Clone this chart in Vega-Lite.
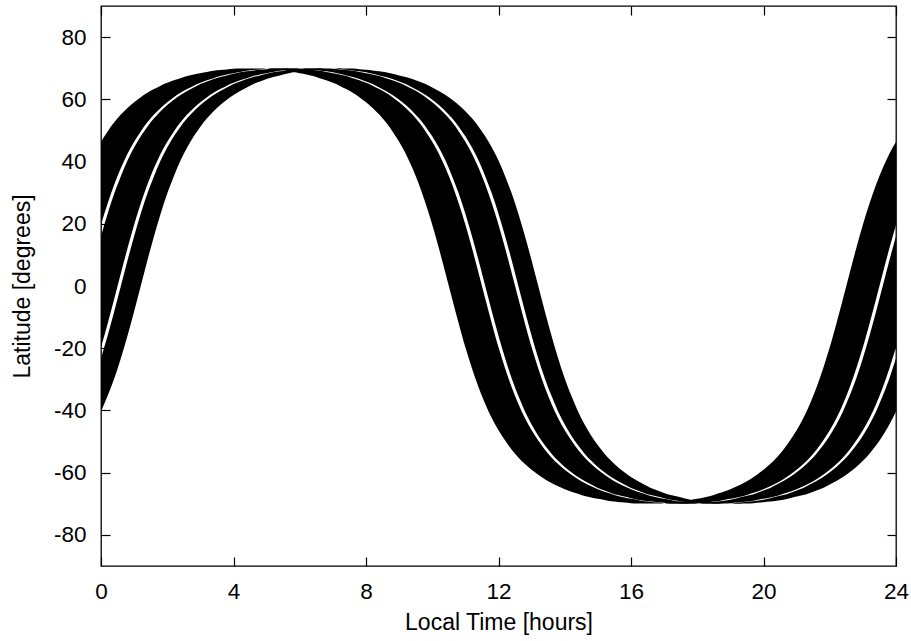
{
  "$schema": "https://vega.github.io/schema/vega-lite/v6.json",
  "width": 795,
  "height": 560,
  "autosize": {"type": "none"},
  "padding": {"left": 101, "top": 6, "right": 15, "bottom": 75},
  "background": "white",
  "config": {
    "view": {"stroke": "#000", "strokeWidth": 1.3},
    "font": "Liberation Sans",
    "axis": {
      "labelFont": "Liberation Sans",
      "titleFont": "Liberation Sans",
      "labelFontSize": 22.5,
      "titleFontSize": 23,
      "titleFontWeight": "normal",
      "labelColor": "#000",
      "titleColor": "#000",
      "tickColor": "#000",
      "tickWidth": 1.2,
      "domain": false,
      "grid": false,
      "labelFlush": false,
      "labelOverlap": false
    }
  },
  "data": {
    "values": [
      {"t": 0, "a": 46.4, "b": 19.7, "c": 16.0, "d": -19.7, "e": -23.2, "f": -40.3},
      {"t": 0.2, "a": 49.7, "b": 26.5, "c": 23.2, "d": -12.1, "e": -16.0, "f": -35.3},
      {"t": 0.4, "a": 52.6, "b": 32.6, "c": 29.7, "d": -4.1, "e": -8.2, "f": -29.7},
      {"t": 0.6, "a": 55.1, "b": 37.9, "c": 35.3, "d": 4.1, "e": 0, "f": -23.2},
      {"t": 0.8, "a": 57.2, "b": 42.5, "c": 40.3, "d": 12.1, "e": 8.2, "f": -16.0},
      {"t": 1.0, "a": 59.1, "b": 46.4, "c": 44.5, "d": 19.7, "e": 16.0, "f": -8.2},
      {"t": 1.2, "a": 60.7, "b": 49.7, "c": 48.1, "d": 26.5, "e": 23.2, "f": 0},
      {"t": 1.4, "a": 62.1, "b": 52.6, "c": 51.2, "d": 32.6, "e": 29.7, "f": 8.2},
      {"t": 1.6, "a": 63.3, "b": 55.1, "c": 53.9, "d": 37.9, "e": 35.3, "f": 16.0},
      {"t": 1.8, "a": 64.4, "b": 57.2, "c": 56.2, "d": 42.5, "e": 40.3, "f": 23.2},
      {"t": 2.0, "a": 65.3, "b": 59.1, "c": 58.2, "d": 46.4, "e": 44.5, "f": 29.7},
      {"t": 2.2, "a": 66.1, "b": 60.7, "c": 59.9, "d": 49.7, "e": 48.1, "f": 35.3},
      {"t": 2.4, "a": 66.8, "b": 62.1, "c": 61.4, "d": 52.6, "e": 51.2, "f": 40.3},
      {"t": 2.6, "a": 67.5, "b": 63.3, "c": 62.7, "d": 55.1, "e": 53.9, "f": 44.5},
      {"t": 2.8, "a": 68.0, "b": 64.4, "c": 63.8, "d": 57.2, "e": 56.2, "f": 48.1},
      {"t": 3.0, "a": 68.4, "b": 65.3, "c": 64.9, "d": 59.1, "e": 58.2, "f": 51.2},
      {"t": 3.2, "a": 68.8, "b": 66.1, "c": 65.7, "d": 60.7, "e": 59.9, "f": 53.9},
      {"t": 3.4, "a": 69.2, "b": 66.8, "c": 66.5, "d": 62.1, "e": 61.4, "f": 56.2},
      {"t": 3.6, "a": 69.4, "b": 67.5, "c": 67.2, "d": 63.3, "e": 62.7, "f": 58.2},
      {"t": 3.8, "a": 69.6, "b": 68.0, "c": 67.7, "d": 64.4, "e": 63.8, "f": 59.9},
      {"t": 4.0, "a": 69.8, "b": 68.4, "c": 68.2, "d": 65.3, "e": 64.9, "f": 61.4},
      {"t": 4.2, "a": 69.9, "b": 68.8, "c": 68.7, "d": 66.1, "e": 65.7, "f": 62.7},
      {"t": 4.4, "a": 69.9, "b": 69.2, "c": 69.0, "d": 66.8, "e": 66.5, "f": 63.8},
      {"t": 4.6, "a": 69.9, "b": 69.4, "c": 69.3, "d": 67.5, "e": 67.2, "f": 64.9},
      {"t": 4.8, "a": 69.9, "b": 69.6, "c": 69.5, "d": 68.0, "e": 67.7, "f": 65.7},
      {"t": 5.0, "a": 69.8, "b": 69.8, "c": 69.7, "d": 68.4, "e": 68.2, "f": 66.5},
      {"t": 5.2, "a": 69.6, "b": 69.9, "c": 69.9, "d": 68.8, "e": 68.7, "f": 67.2},
      {"t": 5.4, "a": 69.4, "b": 69.9, "c": 69.9, "d": 69.2, "e": 69.0, "f": 67.7},
      {"t": 5.6, "a": 69.2, "b": 69.9, "c": 70.0, "d": 69.4, "e": 69.3, "f": 68.2},
      {"t": 5.8, "a": 68.8, "b": 69.9, "c": 69.9, "d": 69.6, "e": 69.5, "f": 68.7},
      {"t": 6.0, "a": 68.4, "b": 69.8, "c": 69.9, "d": 69.8, "e": 69.7, "f": 69.0},
      {"t": 6.2, "a": 68.0, "b": 69.6, "c": 69.7, "d": 69.9, "e": 69.9, "f": 69.3},
      {"t": 6.4, "a": 67.5, "b": 69.4, "c": 69.5, "d": 69.9, "e": 69.9, "f": 69.5},
      {"t": 6.6, "a": 66.8, "b": 69.2, "c": 69.3, "d": 69.9, "e": 70.0, "f": 69.7},
      {"t": 6.8, "a": 66.1, "b": 68.8, "c": 69.0, "d": 69.9, "e": 69.9, "f": 69.9},
      {"t": 7.0, "a": 65.3, "b": 68.4, "c": 68.7, "d": 69.8, "e": 69.9, "f": 69.9},
      {"t": 7.2, "a": 64.4, "b": 68.0, "c": 68.2, "d": 69.6, "e": 69.7, "f": 70.0},
      {"t": 7.4, "a": 63.3, "b": 67.5, "c": 67.7, "d": 69.4, "e": 69.5, "f": 69.9},
      {"t": 7.6, "a": 62.1, "b": 66.8, "c": 67.2, "d": 69.2, "e": 69.3, "f": 69.9},
      {"t": 7.8, "a": 60.7, "b": 66.1, "c": 66.5, "d": 68.8, "e": 69.0, "f": 69.7},
      {"t": 8.0, "a": 59.1, "b": 65.3, "c": 65.7, "d": 68.4, "e": 68.7, "f": 69.5},
      {"t": 8.2, "a": 57.2, "b": 64.4, "c": 64.9, "d": 68.0, "e": 68.2, "f": 69.3},
      {"t": 8.4, "a": 55.1, "b": 63.3, "c": 63.8, "d": 67.5, "e": 67.7, "f": 69.0},
      {"t": 8.6, "a": 52.6, "b": 62.1, "c": 62.7, "d": 66.8, "e": 67.2, "f": 68.7},
      {"t": 8.8, "a": 49.7, "b": 60.7, "c": 61.4, "d": 66.1, "e": 66.5, "f": 68.2},
      {"t": 9.0, "a": 46.4, "b": 59.1, "c": 59.9, "d": 65.3, "e": 65.7, "f": 67.7},
      {"t": 9.2, "a": 42.5, "b": 57.2, "c": 58.2, "d": 64.4, "e": 64.9, "f": 67.2},
      {"t": 9.4, "a": 37.9, "b": 55.1, "c": 56.2, "d": 63.3, "e": 63.8, "f": 66.5},
      {"t": 9.6, "a": 32.6, "b": 52.6, "c": 53.9, "d": 62.1, "e": 62.7, "f": 65.7},
      {"t": 9.8, "a": 26.5, "b": 49.7, "c": 51.2, "d": 60.7, "e": 61.4, "f": 64.9},
      {"t": 10.0, "a": 19.7, "b": 46.4, "c": 48.1, "d": 59.1, "e": 59.9, "f": 63.8},
      {"t": 10.2, "a": 12.1, "b": 42.5, "c": 44.5, "d": 57.2, "e": 58.2, "f": 62.7},
      {"t": 10.4, "a": 4.1, "b": 37.9, "c": 40.3, "d": 55.1, "e": 56.2, "f": 61.4},
      {"t": 10.6, "a": -4.1, "b": 32.6, "c": 35.3, "d": 52.6, "e": 53.9, "f": 59.9},
      {"t": 10.8, "a": -12.1, "b": 26.5, "c": 29.7, "d": 49.7, "e": 51.2, "f": 58.2},
      {"t": 11.0, "a": -19.7, "b": 19.7, "c": 23.2, "d": 46.4, "e": 48.1, "f": 56.2},
      {"t": 11.2, "a": -26.5, "b": 12.1, "c": 16.0, "d": 42.5, "e": 44.5, "f": 53.9},
      {"t": 11.4, "a": -32.6, "b": 4.1, "c": 8.2, "d": 37.9, "e": 40.3, "f": 51.2},
      {"t": 11.6, "a": -37.9, "b": -4.1, "c": 0, "d": 32.6, "e": 35.3, "f": 48.1},
      {"t": 11.8, "a": -42.5, "b": -12.1, "c": -8.2, "d": 26.5, "e": 29.7, "f": 44.5},
      {"t": 12.0, "a": -46.4, "b": -19.7, "c": -16.0, "d": 19.7, "e": 23.2, "f": 40.3},
      {"t": 12.2, "a": -49.7, "b": -26.5, "c": -23.2, "d": 12.1, "e": 16.0, "f": 35.3},
      {"t": 12.4, "a": -52.6, "b": -32.6, "c": -29.7, "d": 4.1, "e": 8.2, "f": 29.7},
      {"t": 12.6, "a": -55.1, "b": -37.9, "c": -35.3, "d": -4.1, "e": 0, "f": 23.2},
      {"t": 12.8, "a": -57.2, "b": -42.5, "c": -40.3, "d": -12.1, "e": -8.2, "f": 16.0},
      {"t": 13.0, "a": -59.1, "b": -46.4, "c": -44.5, "d": -19.7, "e": -16.0, "f": 8.2},
      {"t": 13.2, "a": -60.7, "b": -49.7, "c": -48.1, "d": -26.5, "e": -23.2, "f": 0},
      {"t": 13.4, "a": -62.1, "b": -52.6, "c": -51.2, "d": -32.6, "e": -29.7, "f": -8.2},
      {"t": 13.6, "a": -63.3, "b": -55.1, "c": -53.9, "d": -37.9, "e": -35.3, "f": -16.0},
      {"t": 13.8, "a": -64.4, "b": -57.2, "c": -56.2, "d": -42.5, "e": -40.3, "f": -23.2},
      {"t": 14.0, "a": -65.3, "b": -59.1, "c": -58.2, "d": -46.4, "e": -44.5, "f": -29.7},
      {"t": 14.2, "a": -66.1, "b": -60.7, "c": -59.9, "d": -49.7, "e": -48.1, "f": -35.3},
      {"t": 14.4, "a": -66.8, "b": -62.1, "c": -61.4, "d": -52.6, "e": -51.2, "f": -40.3},
      {"t": 14.6, "a": -67.5, "b": -63.3, "c": -62.7, "d": -55.1, "e": -53.9, "f": -44.5},
      {"t": 14.8, "a": -68.0, "b": -64.4, "c": -63.8, "d": -57.2, "e": -56.2, "f": -48.1},
      {"t": 15.0, "a": -68.4, "b": -65.3, "c": -64.9, "d": -59.1, "e": -58.2, "f": -51.2},
      {"t": 15.2, "a": -68.8, "b": -66.1, "c": -65.7, "d": -60.7, "e": -59.9, "f": -53.9},
      {"t": 15.4, "a": -69.2, "b": -66.8, "c": -66.5, "d": -62.1, "e": -61.4, "f": -56.2},
      {"t": 15.6, "a": -69.4, "b": -67.5, "c": -67.2, "d": -63.3, "e": -62.7, "f": -58.2},
      {"t": 15.8, "a": -69.6, "b": -68.0, "c": -67.7, "d": -64.4, "e": -63.8, "f": -59.9},
      {"t": 16.0, "a": -69.8, "b": -68.4, "c": -68.2, "d": -65.3, "e": -64.9, "f": -61.4},
      {"t": 16.2, "a": -69.9, "b": -68.8, "c": -68.7, "d": -66.1, "e": -65.7, "f": -62.7},
      {"t": 16.4, "a": -69.9, "b": -69.2, "c": -69.0, "d": -66.8, "e": -66.5, "f": -63.8},
      {"t": 16.6, "a": -69.9, "b": -69.4, "c": -69.3, "d": -67.5, "e": -67.2, "f": -64.9},
      {"t": 16.8, "a": -69.9, "b": -69.6, "c": -69.5, "d": -68.0, "e": -67.7, "f": -65.7},
      {"t": 17.0, "a": -69.8, "b": -69.8, "c": -69.7, "d": -68.4, "e": -68.2, "f": -66.5},
      {"t": 17.2, "a": -69.6, "b": -69.9, "c": -69.9, "d": -68.8, "e": -68.7, "f": -67.2},
      {"t": 17.4, "a": -69.4, "b": -69.9, "c": -69.9, "d": -69.2, "e": -69.0, "f": -67.7},
      {"t": 17.6, "a": -69.2, "b": -69.9, "c": -70.0, "d": -69.4, "e": -69.3, "f": -68.2},
      {"t": 17.8, "a": -68.8, "b": -69.9, "c": -69.9, "d": -69.6, "e": -69.5, "f": -68.7},
      {"t": 18.0, "a": -68.4, "b": -69.8, "c": -69.9, "d": -69.8, "e": -69.7, "f": -69.0},
      {"t": 18.2, "a": -68.0, "b": -69.6, "c": -69.7, "d": -69.9, "e": -69.9, "f": -69.3},
      {"t": 18.4, "a": -67.5, "b": -69.4, "c": -69.5, "d": -69.9, "e": -69.9, "f": -69.5},
      {"t": 18.6, "a": -66.8, "b": -69.2, "c": -69.3, "d": -69.9, "e": -70.0, "f": -69.7},
      {"t": 18.8, "a": -66.1, "b": -68.8, "c": -69.0, "d": -69.9, "e": -69.9, "f": -69.9},
      {"t": 19.0, "a": -65.3, "b": -68.4, "c": -68.7, "d": -69.8, "e": -69.9, "f": -69.9},
      {"t": 19.2, "a": -64.4, "b": -68.0, "c": -68.2, "d": -69.6, "e": -69.7, "f": -70.0},
      {"t": 19.4, "a": -63.3, "b": -67.5, "c": -67.7, "d": -69.4, "e": -69.5, "f": -69.9},
      {"t": 19.6, "a": -62.1, "b": -66.8, "c": -67.2, "d": -69.2, "e": -69.3, "f": -69.9},
      {"t": 19.8, "a": -60.7, "b": -66.1, "c": -66.5, "d": -68.8, "e": -69.0, "f": -69.7},
      {"t": 20.0, "a": -59.1, "b": -65.3, "c": -65.7, "d": -68.4, "e": -68.7, "f": -69.5},
      {"t": 20.2, "a": -57.2, "b": -64.4, "c": -64.9, "d": -68.0, "e": -68.2, "f": -69.3},
      {"t": 20.4, "a": -55.1, "b": -63.3, "c": -63.8, "d": -67.5, "e": -67.7, "f": -69.0},
      {"t": 20.6, "a": -52.6, "b": -62.1, "c": -62.7, "d": -66.8, "e": -67.2, "f": -68.7},
      {"t": 20.8, "a": -49.7, "b": -60.7, "c": -61.4, "d": -66.1, "e": -66.5, "f": -68.2},
      {"t": 21.0, "a": -46.4, "b": -59.1, "c": -59.9, "d": -65.3, "e": -65.7, "f": -67.7},
      {"t": 21.2, "a": -42.5, "b": -57.2, "c": -58.2, "d": -64.4, "e": -64.9, "f": -67.2},
      {"t": 21.4, "a": -37.9, "b": -55.1, "c": -56.2, "d": -63.3, "e": -63.8, "f": -66.5},
      {"t": 21.6, "a": -32.6, "b": -52.6, "c": -53.9, "d": -62.1, "e": -62.7, "f": -65.7},
      {"t": 21.8, "a": -26.5, "b": -49.7, "c": -51.2, "d": -60.7, "e": -61.4, "f": -64.9},
      {"t": 22.0, "a": -19.7, "b": -46.4, "c": -48.1, "d": -59.1, "e": -59.9, "f": -63.8},
      {"t": 22.2, "a": -12.1, "b": -42.5, "c": -44.5, "d": -57.2, "e": -58.2, "f": -62.7},
      {"t": 22.4, "a": -4.1, "b": -37.9, "c": -40.3, "d": -55.1, "e": -56.2, "f": -61.4},
      {"t": 22.6, "a": 4.1, "b": -32.6, "c": -35.3, "d": -52.6, "e": -53.9, "f": -59.9},
      {"t": 22.8, "a": 12.1, "b": -26.5, "c": -29.7, "d": -49.7, "e": -51.2, "f": -58.2},
      {"t": 23.0, "a": 19.7, "b": -19.7, "c": -23.2, "d": -46.4, "e": -48.1, "f": -56.2},
      {"t": 23.2, "a": 26.5, "b": -12.1, "c": -16.0, "d": -42.5, "e": -44.5, "f": -53.9},
      {"t": 23.4, "a": 32.6, "b": -4.1, "c": -8.2, "d": -37.9, "e": -40.3, "f": -51.2},
      {"t": 23.6, "a": 37.9, "b": 4.1, "c": 0, "d": -32.6, "e": -35.3, "f": -48.1},
      {"t": 23.8, "a": 42.5, "b": 12.1, "c": 8.2, "d": -26.5, "e": -29.7, "f": -44.5},
      {"t": 24.0, "a": 46.4, "b": 19.7, "c": 16.0, "d": -19.7, "e": -23.2, "f": -40.3}
    ]
  },
  "layer": [
    {
      "mark": {"type": "area", "color": "#000", "opacity": 1, "interpolate": "monotone"},
      "encoding": {
        "x": {
          "field": "t", "type": "quantitative",
          "scale": {"domain": [0, 24], "nice": false, "zero": false},
          "axis": {
            "orient": "bottom",
            "values": [0, 4, 8, 12, 16, 20, 24],
            "labelExpr": "'' + datum.value",
            "title": "Local Time [hours]",
            "tickSize": -9,
            "labelPadding": 23,
            "titleX": 397.5,
            "titleY": 63,
            "titleBaseline": "alphabetic",
            "titleAlign": "center"
          }
        },
        "y": {
          "field": "a", "type": "quantitative",
          "scale": {"domain": [-90, 90], "nice": false, "zero": false},
          "axis": {
            "orient": "left",
            "values": [-80, -60, -40, -20, 0, 20, 40, 60, 80],
            "labelExpr": "'' + datum.value",
            "title": "Latitude [degrees]",
            "tickSize": -9,
            "labelPadding": 24,
            "titleAngle": 270,
            "titleX": -72,
            "titleY": 280,
            "titleBaseline": "alphabetic",
            "titleAlign": "center"
          }
        },
        "y2": {"field": "b"}
      }
    },
    {
      "mark": {"type": "area", "color": "#000", "opacity": 1, "interpolate": "monotone"},
      "encoding": {
        "x": {
          "field": "t", "type": "quantitative",
          "scale": {"domain": [0, 24], "nice": false, "zero": false},
          "axis": {
            "orient": "top",
            "values": [0, 4, 8, 12, 16, 20, 24],
            "title": null,
            "labels": false,
            "tickSize": -9
          }
        },
        "y": {
          "field": "c", "type": "quantitative",
          "scale": {"domain": [-90, 90], "nice": false, "zero": false},
          "axis": {
            "orient": "right",
            "values": [-80, -60, -40, -20, 0, 20, 40, 60, 80],
            "title": null,
            "labels": false,
            "tickSize": -9
          }
        },
        "y2": {"field": "d"}
      }
    },
    {
      "mark": {"type": "area", "color": "#000", "opacity": 1, "interpolate": "monotone"},
      "encoding": {
        "x": {
          "field": "t", "type": "quantitative",
          "scale": {"domain": [0, 24], "nice": false, "zero": false},
          "axis": null
        },
        "y": {
          "field": "e", "type": "quantitative",
          "scale": {"domain": [-90, 90], "nice": false, "zero": false},
          "axis": null
        },
        "y2": {"field": "f"}
      }
    }
  ],
  "resolve": {"axis": {"x": "independent", "y": "independent"}}
}
